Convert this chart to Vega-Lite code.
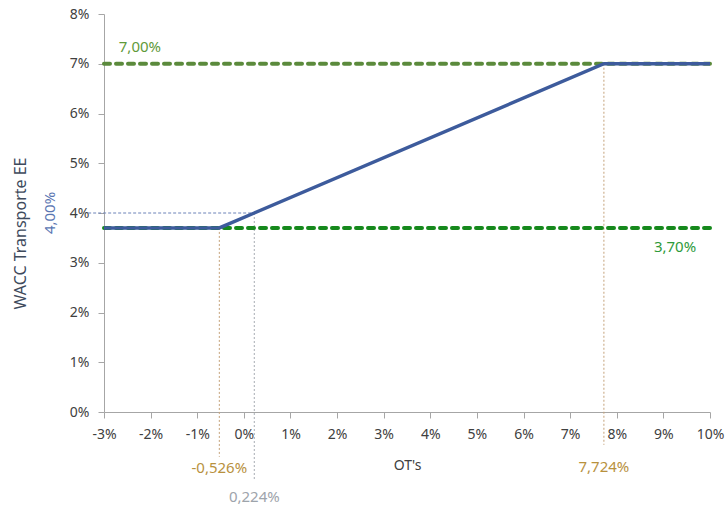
{
  "$schema": "https://vega.github.io/schema/vega-lite/v6.json",
  "width": 606,
  "height": 398,
  "autosize": {"type": "none"},
  "padding": {"left": 104, "top": 14, "right": 15, "bottom": 97},
  "background": "white",
  "config": {
    "view": {"stroke": null},
    "font": "Noto Sans",
    "axis": {"grid": false, "domainColor": "#a6a6a6", "tickColor": "#a6a6a6", "labelColor": "#404040", "labelFontSize": 14, "titleFontWeight": "normal", "titleColor": "#404040", "titleFontSize": 14}
  },
  "resolve": {"scale": {"color": "independent", "stroke": "independent"}},
  "datasets": {
    "curve": [
      {"ot": -0.03, "wacc": 0.037},
      {"ot": -0.00526, "wacc": 0.037},
      {"ot": 0.00224, "wacc": 0.04},
      {"ot": 0.07724, "wacc": 0.07},
      {"ot": 0.10, "wacc": 0.07}
    ],
    "limits": [
      {"name": "max", "wacc": 0.07, "from": -0.03, "to": 0.10},
      {"name": "min", "wacc": 0.037, "from": -0.03, "to": 0.10}
    ],
    "marks": [
      {"name": "a", "ot": -0.00526, "top": 0.037, "bottom": -0.009, "labelY": -0.0113, "label": "-0,526%"},
      {"name": "b", "ot": 0.00224, "top": 0.04, "bottom": -0.0137, "labelY": -0.0171, "label": "0,224%"},
      {"name": "c", "ot": 0.07724, "top": 0.07, "bottom": -0.0066, "labelY": -0.011, "label": "7,724%"}
    ],
    "guide": [
      {"from": -0.0334, "to": 0.00224, "wacc": 0.04}
    ],
    "notes": [
      {"name": "max", "ot": -0.0223, "wacc": 0.0734, "label": "7,00%"},
      {"name": "min", "ot": 0.0925, "wacc": 0.0332, "label": "3,70%"}
    ],
    "side": [
      {"ot": -0.0416, "wacc": 0.04, "label": "4,00%"}
    ]
  },
  "layer": [
    {
      "data": {"name": "curve"},
      "mark": {"type": "point", "opacity": 0},
      "encoding": {
        "x": {"field": "ot", "type": "quantitative", "scale": {"domain": [-0.03, 0.10], "nice": false, "zero": false},
          "axis": {"values": [-0.03,-0.02,-0.01,0,0.01,0.02,0.03,0.04,0.05,0.06,0.07,0.08,0.09,0.10], "format": ".0%", "labelExpr": "replace(datum.label, '\u2212', '-')", "title": "OT's", "tickSize": 6, "labelPadding": 9, "titleY": 53, "titleBaseline": "middle", "labelFlush": false}},
        "y": {"field": "wacc", "type": "quantitative", "scale": {"domain": [0, 0.08], "nice": false},
          "axis": {"values": [0,0.01,0.02,0.03,0.04,0.05,0.06,0.07,0.08], "format": ".0%", "title": "WACC Transporte EE", "tickSize": 6, "labelPadding": 9, "titleX": -84, "titleY": 219, "titleAngle": 270, "titleAlign": "center", "titleBaseline": "middle", "titleFontSize": 16, "titleColor": "#3e4a5c", "labelFlush": false}}
      }
    },
    {
      "data": {"name": "marks"},
      "mark": {"type": "rule", "strokeWidth": 1, "strokeDash": [2, 2]},
      "encoding": {
        "x": {"field": "ot", "type": "quantitative"},
        "y": {"field": "top", "type": "quantitative"},
        "y2": {"field": "bottom"},
        "stroke": {"field": "name", "type": "nominal", "scale": {"domain": ["a", "b", "c"], "range": ["#c4a27a", "#a8adb3", "#c4a27a"]}, "legend": null}
      }
    },
    {
      "data": {"name": "guide"},
      "mark": {"type": "rule", "strokeWidth": 1, "strokeDash": [3, 2], "color": "#6d83b8"},
      "encoding": {
        "x": {"field": "from", "type": "quantitative"},
        "x2": {"field": "to"},
        "y": {"field": "wacc", "type": "quantitative"}
      }
    },
    {
      "data": {"name": "limits"},
      "mark": {"type": "rule", "strokeWidth": 4, "strokeDash": [6, 6], "strokeCap": "round"},
      "encoding": {
        "x": {"field": "from", "type": "quantitative"},
        "x2": {"field": "to"},
        "y": {"field": "wacc", "type": "quantitative"},
        "stroke": {"field": "name", "type": "nominal", "scale": {"domain": ["max", "min"], "range": ["#5b8a3c", "#16891c"]}, "legend": null}
      }
    },
    {
      "data": {"name": "curve"},
      "mark": {"type": "line", "color": "#3d5b9c", "strokeWidth": 3.5},
      "encoding": {
        "x": {"field": "ot", "type": "quantitative"},
        "y": {"field": "wacc", "type": "quantitative"}
      }
    },
    {
      "data": {"name": "marks"},
      "mark": {"type": "text", "fontSize": 15, "baseline": "middle", "align": "center"},
      "encoding": {
        "x": {"field": "ot", "type": "quantitative"},
        "y": {"field": "labelY", "type": "quantitative"},
        "text": {"field": "label"},
        "color": {"field": "name", "type": "nominal", "scale": {"domain": ["a", "b", "c"], "range": ["#b8913e", "#9ea4ab", "#b8913e"]}, "legend": null}
      }
    },
    {
      "data": {"name": "notes"},
      "mark": {"type": "text", "fontSize": 15, "baseline": "middle", "align": "center"},
      "encoding": {
        "x": {"field": "ot", "type": "quantitative"},
        "y": {"field": "wacc", "type": "quantitative"},
        "text": {"field": "label"},
        "color": {"field": "name", "type": "nominal", "scale": {"domain": ["max", "min"], "range": ["#5f9a3a", "#2e9a3a"]}, "legend": null}
      }
    },
    {
      "data": {"name": "side"},
      "mark": {"type": "text", "fontSize": 15, "baseline": "middle", "align": "center", "angle": 270, "color": "#5a76b2"},
      "encoding": {
        "x": {"field": "ot", "type": "quantitative"},
        "y": {"field": "wacc", "type": "quantitative"},
        "text": {"field": "label"}
      }
    }
  ]
}
